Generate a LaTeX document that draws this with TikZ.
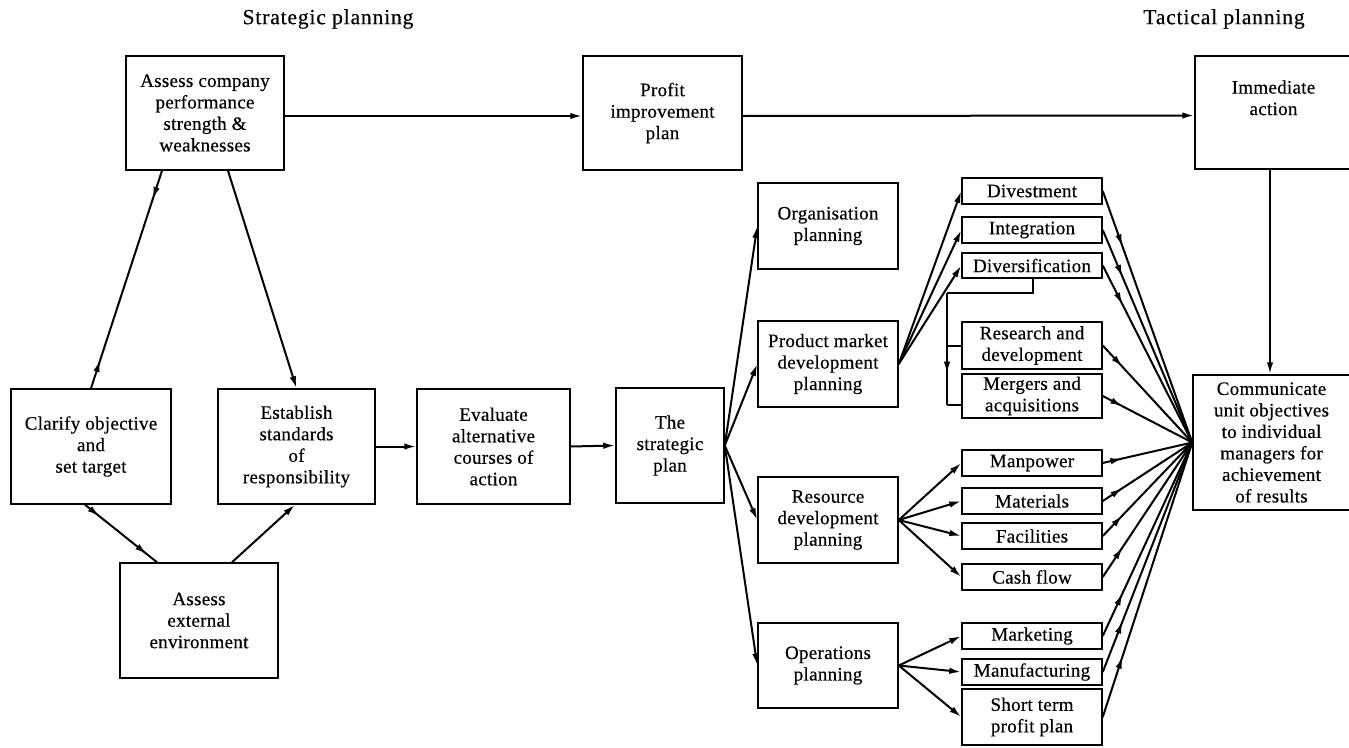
\documentclass[tikz,border=0pt]{standalone}
\usepackage{fontspec}
\setmainfont[LetterSpace=1.5,FakeBold=0.4]{Liberation Serif}
\newfontfamily\headfamily[LetterSpace=4,FakeBold=0.4]{Liberation Serif}
\usetikzlibrary{arrows.meta,decorations.markings,calc}

\newcommand{\boxfont}{\fontsize{19}{21.5}\selectfont}
\newcommand{\headfont}{\headfamily\fontsize{21.5}{24}\selectfont}

\tikzset{
  box/.style={draw, line width=1.5pt, align=center, inner sep=0pt, font=\boxfont},
  small/.style={box, minimum width=140pt},
  conn/.style={line width=2pt},
  tip/.style={-{Latex[length=12pt,width=6.5pt]}},
  fmid/.style={postaction={decorate, decoration={markings,
      mark=at position #1 with {\arrow{Latex[length=12pt,width=6.5pt]}}}}},
  rmid/.style={postaction={decorate, decoration={markings,
      mark=at position #1 with {\arrowreversed{Latex[length=12pt,width=6.5pt]}}}}},
}

\begin{document}
\begin{tikzpicture}[x=1pt, y=-1pt]
\useasboundingbox (0,0) rectangle (1349,747);

% headings
\node[font=\headfont] (hstrat) at (328,19) {Strategic planning};
\node[font=\headfont] (htact) at (1224,19) {Tactical planning};

% strategic side
\node[box, minimum width=158pt, minimum height=114pt] (acp) at (205,113)
  {Assess company\\performance\\strength \&\\weaknesses};
\node[box, minimum width=159pt, minimum height=114pt] (pip) at (662.5,113)
  {Profit\\improvement\\plan};
\node[box, minimum width=157pt, minimum height=113pt] (ia) at (1273.5,112.5)
  {Immediate\\action\\[8pt]};
\node[box, minimum width=160pt, minimum height=115pt] (clar) at (91,446.5)
  {Clarify objective\\and\\set target};
\node[box, minimum width=157pt, minimum height=115pt] (est) at (296.5,446.5)
  {Establish\\standards\\of\\responsibility};
\node[box, minimum width=158pt, minimum height=115pt] (ext) at (199,620.5)
  {Assess\\external\\environment};
\node[box, minimum width=153pt, minimum height=115pt] (eval) at (493.5,446.5)
  {Evaluate\\alternative\\courses of\\action};
\node[box, minimum width=108pt, minimum height=115pt] (sp) at (670,445.5)
  {The\\strategic\\plan};

% planning areas
\node[box, minimum width=140pt, minimum height=86pt] (org) at (828,226)
  {Organisation\\planning};
\node[box, minimum width=140pt, minimum height=86pt] (pm) at (828,364)
  {Product market\\development\\planning};
\node[box, minimum width=140pt, minimum height=86pt] (rd) at (828,520)
  {Resource\\development\\planning};
\node[box, minimum width=140pt, minimum height=85pt] (op) at (828,665.5)
  {Operations\\planning};

% detailed plans
\node[small, minimum height=26pt] (div) at (1032,191) {Divestment};
\node[small, minimum height=26pt] (integ) at (1032,230) {Integration};
\node[small, minimum height=25pt] (divers) at (1032,265.5) {Diversification};
\node[small, minimum height=47pt] (rnd) at (1032,345.5) {Research and\\development};
\node[small, minimum height=44pt] (merg) at (1032,396) {Mergers and\\acquisitions};
\node[small, minimum height=26pt] (man) at (1032,463) {Manpower};
\node[small, minimum height=26pt] (mat) at (1032,501) {Materials};
\node[small, minimum height=26pt] (fac) at (1032,536) {Facilities};
\node[small, minimum height=26pt] (cash) at (1032,577) {Cash flow};
\node[small, minimum height=26pt] (mkt) at (1032,636) {Marketing};
\node[small, minimum height=26pt] (manu) at (1032,672) {Manufacturing};
\node[small, minimum height=56pt] (stp) at (1032,717) {Short term\\profit plan};

\node[box, minimum width=157pt, minimum height=135pt] (comm) at (1271.5,442.5)
  {Communicate\\unit objectives\\to individual\\managers for\\achievement\\of results};

% top row
\draw[conn,tip] ([yshift=-3pt]acp.east) -- ([yshift=-3pt]pip.west);
\draw[conn,tip] ([yshift=-3pt]pip.east) -- ([yshift=-3pt]ia.west);
\draw[conn,tip] ([xshift=-3.5pt]ia.south) -- ([xshift=-3.5pt]ia.south |- comm.north);

% strategic loop
\draw[conn,fmid=0.13,rmid=0.87] (clar.north) -- ([xshift=-43pt]acp.south);
\draw[conn,tip] ([xshift=23pt]acp.south) -- (est.north);
\draw[conn,fmid=0.2,fmid=0.86] ([xshift=-6pt]clar.south) -- ([xshift=-42pt]ext.north);
\draw[conn,tip] ([xshift=33pt]ext.north) -- ([xshift=-1.5pt]est.south);
\draw[conn,tip] (est.east) -- (eval.west);
\draw[conn,tip] (eval.east) -- (sp.west);

% strategic plan branches
\foreach \t in {org,pm,rd,op} \draw[conn,tip] (sp.east) -- (\t.west);
\foreach \t in {div,integ,divers} \draw[conn,tip] (pm.east) -- (\t.west);
\foreach \t in {man,mat,fac,cash} \draw[conn,tip] (rd.east) -- (\t.west);
\foreach \t in {mkt,manu,stp} \draw[conn,tip] (op.east) -- (\t.west);

% diversification bracket
\coordinate (bkt) at (947,293);
\coordinate (bkb) at (947,405);
\draw[conn] ([xshift=1pt]divers.south) |- (bkt);
\draw[conn,fmid=0.72] (bkt) -- (bkb);
\draw[conn] (bkb) -- (bkb -| merg.west);
\draw[conn] (bkt |- rnd.west) -- (rnd.west);

% everything converges on communication
\foreach \s in {div,integ,divers,rnd,merg,man,mat,fac,cash,mkt,manu,stp}
  \draw[conn,fmid=0.22] (\s.east) -- (comm.west);
\end{tikzpicture}
\end{document}
